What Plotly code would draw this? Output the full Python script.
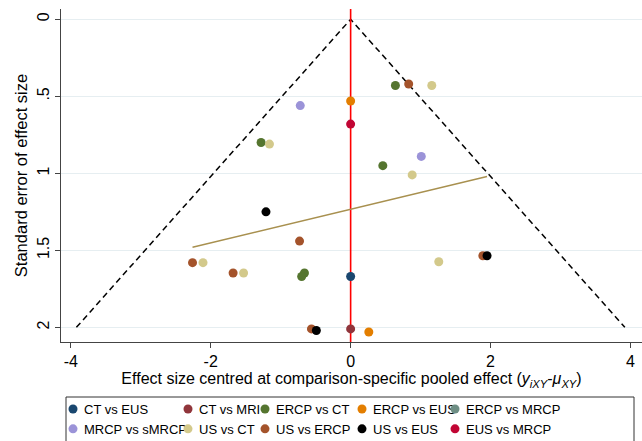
import plotly.graph_objects as go

# ---- data (effect size centred, standard error) ----
series_names = ["CT vs EUS", "CT vs MRI", "ERCP vs CT", "ERCP vs EUS", "ERCP vs MRCP",
                "MRCP vs sMRCP", "US vs CT", "US vs ERCP", "US vs EUS", "EUS vs MRCP"]
series_colors = ["#1a476f", "#90353b", "#55752f", "#e37e00", "#6e8e84",
                 "#9b93d8", "#d3c98b", "#a4532b", "#000000", "#c10534"]

ct_eus_x = [0.0]
ct_eus_se = [1.67]
ct_mri_x = [0.0]
ct_mri_se = [2.01]
ercp_ct_x = [0.64, -1.28, 0.46, -0.66, -0.70]
ercp_ct_se = [0.43, 0.80, 0.95, 1.647, 1.67]
ercp_eus_x = [0.0, 0.26]
ercp_eus_se = [0.53, 2.03]
ercp_mrcp_x = [None]
ercp_mrcp_se = [None]
mrcp_smrcp_x = [-0.72, 1.01]
mrcp_smrcp_se = [0.56, 0.89]
us_ct_x = [1.16, -1.16, 0.88, 1.26, -2.11, -1.53]
us_ct_se = [0.43, 0.81, 1.01, 1.574, 1.58, 1.647]
us_ercp_x = [0.83, -0.73, 1.89, -2.26, -1.68, -0.56]
us_ercp_se = [0.42, 1.44, 1.535, 1.58, 1.647, 2.01]
us_eus_x = [-1.21, 1.95, -0.49]
us_eus_se = [1.25, 1.535, 2.02]
eus_mrcp_x = [0.0]
eus_mrcp_se = [0.68]

series_x = [ct_eus_x, ct_mri_x, ercp_ct_x, ercp_eus_x, ercp_mrcp_x,
            mrcp_smrcp_x, us_ct_x, us_ercp_x, us_eus_x, eus_mrcp_x]
series_se = [ct_eus_se, ct_mri_se, ercp_ct_se, ercp_eus_se, ercp_mrcp_se,
             mrcp_smrcp_se, us_ct_se, us_ercp_se, us_eus_se, eus_mrcp_se]

# legend layout: column index of each series and text width allotted per column
legend_column = [0, 1, 2, 3, 4, 0, 1, 2, 3, 4]
column_widths = [70, 32, 52, 48, 100]

funnel_x = [-3.92, 0, 3.92]
funnel_se = [2, 0, 2]
egger_x = [-2.26, 1.95]
egger_se = [1.48, 1.02]
x_range = [-4.14, 4.165]
y_range = [2.095, -0.067]

xtick_vals = [-4, -2, 0, 2, 4]
xtick_text = ["-4", "-2", "0", "2", "4"]
ytick_vals = [0, 0.5, 1, 1.5, 2]
ytick_text = ["0", ".5", "1", "1.5", "2"]

FONT = "Liberation Sans, Arial, sans-serif"
W, H = 642, 441
ML, MR, MT, MB = 61, 0, 9, 99
PW, PH = W - ML - MR, H - MT - MB

def px_x(p):
    return (p - ML) / PW

def px_y(p):
    return (H - MB - p) / PH

fig = go.Figure()

fig.add_trace(go.Scatter(x=funnel_x, y=funnel_se, mode="lines",
                         line=dict(color="black", width=1.5, dash="6px,4px"),
                         showlegend=False, hoverinfo="skip"))
fig.add_trace(go.Scatter(x=[0, 0], y=[y_range[1], y_range[0]], mode="lines",
                         line=dict(color="#ff0000", width=1.6),
                         showlegend=False, hoverinfo="skip"))
fig.add_trace(go.Scatter(x=egger_x, y=egger_se, mode="lines",
                         line=dict(color="#a8904f", width=1.5),
                         showlegend=False, hoverinfo="skip"))

for name, col, xs, ses, c in zip(series_names, series_colors, series_x, series_se, legend_column):
    fig.add_trace(go.Scatter(x=xs, y=ses, mode="markers", name=name,
                             legendgroup="col%d" % c, legendwidth=column_widths[c],
                             marker=dict(color=col, size=9, line=dict(width=0))))

# legend frame
fig.add_shape(type="rect", xref="paper", yref="paper",
              x0=px_x(66), x1=px_x(634), y0=px_y(470), y1=px_y(397),
              line=dict(color="#333333", width=1), fillcolor="rgba(0,0,0,0)")

fig.update_layout(
    width=W, height=H,
    margin=dict(l=ML, r=MR, t=MT, b=MB, autoexpand=False),
    paper_bgcolor="white", plot_bgcolor="white",
    font=dict(family=FONT, color="black", size=14),
    showlegend=True,
    legend=dict(orientation="h", x=px_x(53), xanchor="left",
                y=px_y(394), yanchor="top",
                borderwidth=0, bgcolor="rgba(0,0,0,0)",
                font=dict(size=13, family=FONT),
                itemwidth=30, tracegroupgap=0,
                traceorder="grouped"),
)

fig.update_xaxes(range=x_range, tickvals=xtick_vals, ticktext=xtick_text,
                 showgrid=False, zeroline=False, showline=True,
                 linecolor="#444444", linewidth=1.2,
                 ticks="outside", ticklen=5, tickcolor="#444444",
                 tickfont=dict(size=16),
                 title=dict(text="Effect size centred at comparison-specific pooled effect (<i>y<sub>iXY</sub></i>-<i>μ<sub>XY</sub></i>)",
                            font=dict(size=16), standoff=2))
fig.update_yaxes(range=y_range, tickvals=ytick_vals, ticktext=ytick_text,
                 showgrid=True, gridcolor="#e6eef1", gridwidth=1.2,
                 zeroline=False, showline=True,
                 linecolor="#444444", linewidth=1.2,
                 ticks="outside", ticklen=5, tickcolor="#444444",
                 tickangle=-90, tickfont=dict(size=16),
                 title=dict(text="Standard error of effect size",
                            font=dict(size=16.5), standoff=2))

post_js = (
    "document.body.style.margin='0';document.body.style.padding='0';"
    "document.querySelectorAll('.legend .legendtext').forEach(function(t){t.setAttribute('x','31');});"
)
fig.write_html("out.html", config={"displayModeBar": False}, post_script=post_js)
